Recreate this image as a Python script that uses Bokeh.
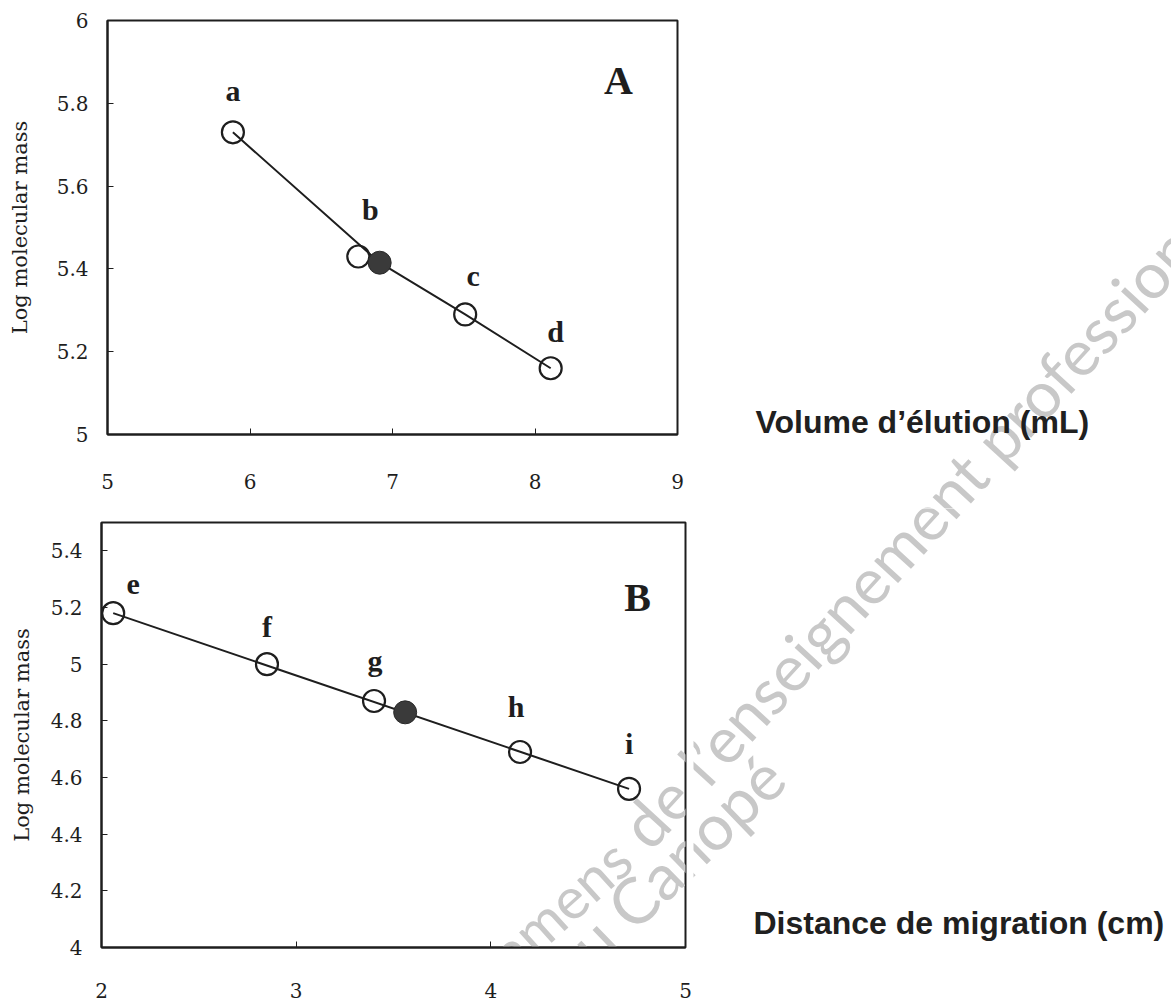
import math
from bokeh.plotting import figure
from bokeh.models import Label, FixedTicker, ColumnDataSource
from bokeh.layouts import row
from bokeh.embed import file_html
from bokeh.resources import INLINE
from bokeh.core.properties import value

# ---------------- data ----------------
# Panel A : gel filtration (elution volume, mL) vs log molecular mass
names_A = ["a", "b", "c", "d"]
vol_A = [5.88, 6.76, 7.51, 8.11]
logm_A = [5.73, 5.43, 5.29, 5.16]
unknown_vol_A = [6.91]
unknown_logm_A = [5.415]
curve_vol_A = [5.88, 6.91, 7.51, 8.11]
curve_logm_A = [5.73, 5.415, 5.29, 5.16]

# Panel B : SDS-PAGE (migration distance, cm) vs log molecular mass
names_B = ["e", "f", "g", "h", "i"]
dist_B = [2.06, 2.85, 3.40, 4.15, 4.71]
logm_B = [5.18, 5.00, 4.87, 4.69, 4.56]
unknown_dist_B = [3.56]
unknown_logm_B = [4.83]
fit_dist_B = [2.06, 4.71]
fit_logm_B = [5.18, 4.56]

xticks_A = [5, 6, 7, 8, 9]
xtick_labels_A = ["5", "6", "7", "8", "9"]
yticks_A = [5, 5.2, 5.4, 5.6, 5.8, 6]
ytick_labels_A = ["5", "5.2", "5.4", "5.6", "5.8", "6"]
xticks_B = [2, 3, 4, 5]
xtick_labels_B = ["2", "3", "4", "5"]
yticks_B = [4, 4.2, 4.4, 4.6, 4.8, 5, 5.2, 5.4]
ytick_labels_B = ["4", "4.2", "4.4", "4.6", "4.8", "5", "5.2", "5.4"]

y_title = "Log molecular mass"
x_title_A = "Volume d\u2019élution (mL)"
x_title_B = "Distance de migration (cm)"
watermark_1a = "Base Nationale des Sujets d\u2019Examens"
watermark_1b = "de l\u2019enseignement professionnel"
watermark_2a = "Réseau"
watermark_2b = "Canopé"

# ---------------- styling / layout (page pixels) ----------------
label_dx_A = [0, 12, 8, 5]
label_dy_A = [-42, -47, -39, -37]
label_dx_B = [20, 0, 1, -4, 0]
label_dy_B = [-29, -38, -41, -46, -45]

PAGE_W = 1171
geomA = dict(left=107, top=20, w=570, h=414, x0=5, x1=9, y0=5, y1=6,
             canvas_top=0, bottom=74, right=12)
geomB = dict(left=101, top=522, w=584, h=425, x0=2, x1=5, y0=4, y1=5.5,
             canvas_top=508, bottom=59, right=8)

SERIF = "DejaVu Serif"
INK = "#1e1e1e"


def no_align(p):
    if "frame_align" in p.properties():
        p.frame_align = False


def px2data(g, px, py):
    x = g["x0"] + (px - g["left"]) / g["w"] * (g["x1"] - g["x0"])
    y = g["y1"] - (py - g["top"]) / g["h"] * (g["y1"] - g["y0"])
    return x, y


def make_fig(g, xticks, xlabels, yticks, ylabels, ytl_standoff, ylab_standoff, xlab_standoff):
    p = figure(frame_width=g["w"], frame_height=g["h"],
               x_range=(g["x0"], g["x1"]), y_range=(g["y0"], g["y1"]),
               min_border_left=g["left"], min_border_top=g["top"] - g["canvas_top"],
               min_border_right=g["right"], min_border_bottom=g["bottom"],
               toolbar_location=None, output_backend="svg")
    no_align(p)
    p.background_fill_color = "white"
    p.border_fill_color = "white"
    p.outline_line_color = INK
    p.outline_line_width = 2
    p.xgrid.grid_line_color = None
    p.ygrid.grid_line_color = None
    for ax, ticks, labels in ((p.xaxis, xticks, xlabels), (p.yaxis, yticks, ylabels)):
        ax.ticker = FixedTicker(ticks=ticks)
        ax.major_label_overrides = {t: l for t, l in zip(ticks, labels)}
        ax.axis_line_color = INK
        ax.axis_line_width = 2
        ax.major_tick_in = 6
        ax.major_tick_out = 0
        ax.major_tick_line_color = INK
        ax.major_tick_line_width = 1
        ax.minor_tick_line_color = None
        ax.major_label_text_font = SERIF
        ax.major_label_text_font_size = "20px"
        ax.major_label_text_color = INK
    p.xaxis.major_label_standoff = xlab_standoff
    p.yaxis.major_label_standoff = ytl_standoff
    p.yaxis.axis_label = y_title
    p.yaxis.axis_label_text_font = SERIF
    p.yaxis.axis_label_text_font_size = "21px"
    p.yaxis.axis_label_text_font_style = "normal"
    p.yaxis.axis_label_text_color = INK
    p.yaxis.axis_label_standoff = ylab_standoff
    return p


def make_text_fig(left, top, w, h):
    # plain canvas whose data coordinates are page pixels (y negated)
    t = figure(frame_width=w, frame_height=h, x_range=(left, left + w),
               y_range=(-(top + h), -top),
               x_axis_type=None, y_axis_type=None, min_border=0,
               toolbar_location=None, output_backend="svg")
    no_align(t)
    t.outline_line_color = None
    t.background_fill_color = "white"
    t.border_fill_color = "white"
    return t


def add_points(p, xs, ys, names, dx, dy, ux, uy, cx, cy):
    p.line(cx, cy, line_color=INK, line_width=2)
    p.scatter(xs, ys, marker="circle", size=22, fill_color=None,
              line_color=INK, line_width=2.2)
    p.scatter(ux, uy, marker="circle", size=23, fill_color="#3a3a3a",
              line_color="#2a2a2a", line_width=1)
    src = ColumnDataSource(dict(x=xs, y=ys, t=names, dx=dx, dy=dy))
    p.text(x="x", y="y", text="t", x_offset="dx", y_offset="dy", source=src,
           text_font=value("Liberation Serif"), text_font_style="bold",
           text_font_size="30px", text_color=INK,
           text_align="center", text_baseline="middle")


def add_watermark(p, conv):
    pieces = [
        (watermark_1a, 621, 849, "right", "58px", 42),
        (watermark_1b, 632, 836, "left", "64px", 47.5),
        (watermark_2a, 605, 928, "right", "64px", 44),
        (watermark_2b, 617, 916, "left", "64px", 44),
    ]
    for txt, px, py, align, fs, deg in pieces:
        x, y = conv(px, py)
        p.add_layout(Label(x=x, y=y, text=txt, angle=math.radians(deg), text_font="Lato",
                           text_font_size=fs, text_color="#c8c8c8",
                           text_align=align, text_baseline="alphabetic",
                           level="underlay"))


def page_conv(px, py):
    return px, -py


# ---------------- panel A ----------------
pA = make_fig(geomA, xticks_A, xtick_labels_A, yticks_A, ytick_labels_A, 19, 22, 39)
add_points(pA, vol_A, logm_A, names_A, label_dx_A, label_dy_A,
           unknown_vol_A, unknown_logm_A, curve_vol_A, curve_logm_A)
ax_, ay_ = px2data(geomA, 618, 80)
pA.add_layout(Label(x=ax_, y=ay_, text="A", text_font="Liberation Serif",
                    text_font_style="bold", text_font_size="40px", text_color=INK,
                    text_align="center", text_baseline="middle"))

wA = geomA["left"] + geomA["w"] + geomA["right"]
tA = make_text_fig(wA, 0, PAGE_W - wA, geomB["canvas_top"])
add_watermark(tA, page_conv)
tA.add_layout(Label(x=755, y=-421, text=x_title_A, text_font="Liberation Sans",
                    text_font_style="bold", text_font_size="32px", text_color="#202020",
                    text_align="left", text_baseline="alphabetic"))

# ---------------- panel B ----------------
pB = make_fig(geomB, xticks_B, xtick_labels_B, yticks_B, ytick_labels_B, 19, 14, 35)
add_watermark(pB, lambda px, py: px2data(geomB, px, py))
add_points(pB, dist_B, logm_B, names_B, label_dx_B, label_dy_B,
           unknown_dist_B, unknown_logm_B, fit_dist_B, fit_logm_B)
bx_, by_ = px2data(geomB, 637, 597)
pB.add_layout(Label(x=bx_, y=by_, text="B", text_font="Liberation Serif",
                    text_font_style="bold", text_font_size="40px", text_color=INK,
                    text_align="center", text_baseline="middle"))

hB = geomB["top"] - geomB["canvas_top"] + geomB["h"] + geomB["bottom"]
wB = geomB["left"] + geomB["w"] + geomB["right"]
tB = make_text_fig(wB, geomB["canvas_top"], PAGE_W - wB, hB)
add_watermark(tB, page_conv)
tB.add_layout(Label(x=753, y=-922, text=x_title_B, text_font="Liberation Sans",
                    text_font_style="bold", text_font_size="32px", text_color="#202020",
                    text_align="left", text_baseline="alphabetic"))

rowA = row(pA, tA, spacing=0)
rowB = row(pB, tB, spacing=0)
open("out.html", "w").write(file_html([rowA, rowB], INLINE))
